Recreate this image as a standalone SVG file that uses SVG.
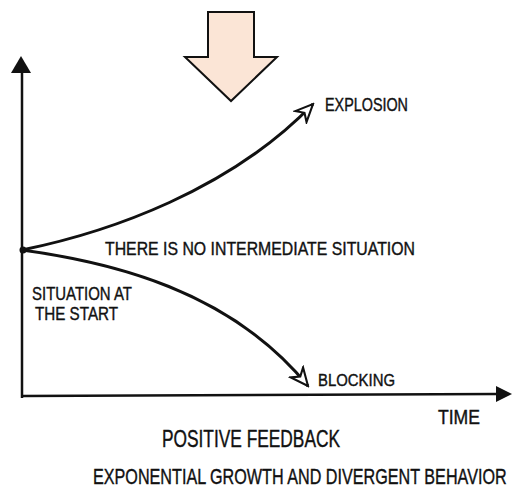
<svg xmlns="http://www.w3.org/2000/svg" width="513" height="492" viewBox="0 0 513 492">
<defs>
<style>
.lbl{font-family:"Liberation Sans",Arial,sans-serif;fill:#111;stroke:#111;stroke-width:0.4}
.ax{stroke:#111;stroke-width:2.5;fill:none}
.crv{stroke:#111;stroke-width:3;fill:none}
</style>
<marker id="open" viewBox="0 0 12 12" refX="11" refY="6" markerWidth="7" markerHeight="7" orient="auto" markerUnits="strokeWidth">
<path d="M1,1.5 L11,6 L1,10.5 L4,6 Z" fill="#fff" stroke="#111" stroke-width="1.2"/>
</marker>
</defs>
<rect width="513" height="492" fill="#fff"/>
<g id="big-arrow">
<polygon points="208,12 254,12 254,57 277,57 231,101 185,57 208,57" fill="#FBE5D6" stroke="#111" stroke-width="2"/>
</g>
<g id="connectors">
<line class="ax" x1="22" y1="70" x2="22" y2="398"/>
<polygon points="21,56 31,73 11,73" fill="#111"/>
<line class="ax" x1="22" y1="396" x2="498" y2="394"/>
<polygon points="512,394 496,386 496,402" fill="#111"/>
<path class="crv" d="M22,250 C110,232 230,190 313,104" marker-end="url(#open)"/>
<path class="crv" d="M22,250 C110,262 230,290 308,386" marker-end="url(#open)"/>
<circle cx="23" cy="250" r="3.5" fill="#111"/>
</g>
<g id="explosion"><text class="lbl" x="325" y="111" font-size="19" textLength="83" lengthAdjust="spacingAndGlyphs">EXPLOSION</text></g>
<g id="intermediate"><text class="lbl" x="105" y="255" font-size="19" textLength="310" lengthAdjust="spacingAndGlyphs">THERE IS NO INTERMEDIATE SITUATION</text></g>
<g id="start">
<text class="lbl" x="32" y="300" font-size="19" textLength="100" lengthAdjust="spacingAndGlyphs">SITUATION AT</text>
<text class="lbl" x="35" y="320" font-size="19" textLength="83" lengthAdjust="spacingAndGlyphs">THE START</text>
</g>
<g id="blocking"><text class="lbl" x="318" y="386" font-size="17" textLength="77" lengthAdjust="spacingAndGlyphs">BLOCKING</text></g>
<g id="time"><text class="lbl" x="438" y="424" font-size="20" textLength="42" lengthAdjust="spacingAndGlyphs">TIME</text></g>
<g id="title"><text class="lbl" x="162" y="447" font-size="23" textLength="178" lengthAdjust="spacingAndGlyphs">POSITIVE FEEDBACK</text></g>
<g id="subtitle"><text class="lbl" transform="translate(93,484) scale(0.74,1)" x="0" y="0" font-size="22" textLength="559" lengthAdjust="spacingAndGlyphs">EXPONENTIAL GROWTH AND DIVERGENT BEHAVIOR</text></g>
</svg>
